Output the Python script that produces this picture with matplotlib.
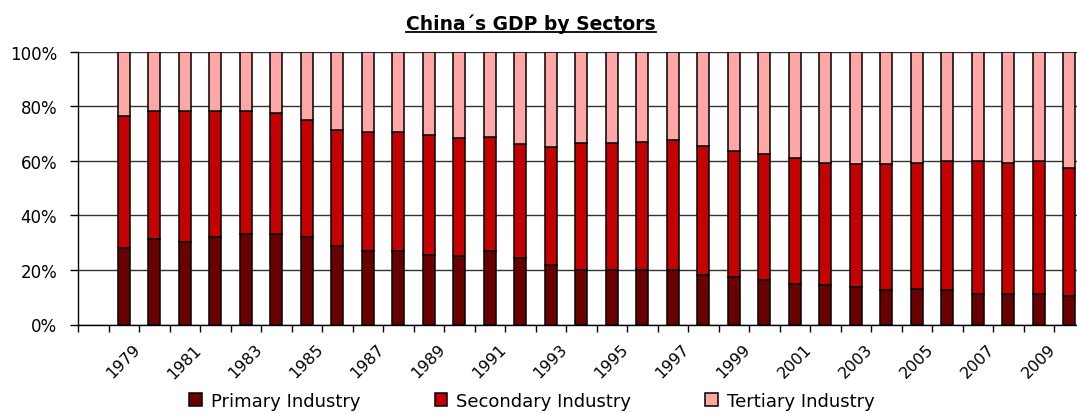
import matplotlib
matplotlib.use('Agg')
from matplotlib import pyplot as plt
from matplotlib.lines import Line2D


years = list(range(1979, 2011))

# sector shares of GDP, percent
primary = [28.2, 31.3, 30.1, 31.9, 33.1, 33.1, 31.9, 28.7, 26.9, 26.9, 25.6,
           25.1, 26.9, 24.4, 21.8, 20.0, 20.0, 20.0, 20.0, 18.1, 17.5, 16.3,
           15.0, 14.4, 13.8, 12.6, 13.1, 12.6, 11.2, 11.2, 11.2, 10.5]
secondary = [48.1, 46.8, 48.0, 46.2, 45.0, 44.5, 43.2, 42.6, 43.8, 43.8, 43.8,
             43.1, 41.9, 41.9, 43.4, 46.4, 46.4, 47.0, 47.5, 47.5, 46.2, 46.2,
             46.1, 44.9, 45.0, 46.2, 46.2, 47.3, 48.7, 48.1, 48.7, 46.8]
tertiary = [23.7, 21.9, 21.9, 21.9, 21.9, 22.4, 24.9, 28.7, 29.3, 29.3, 30.6,
            31.8, 31.2, 33.7, 34.8, 33.6, 33.6, 33.0, 32.5, 34.4, 36.3, 37.5,
            38.9, 40.7, 41.2, 41.2, 40.7, 40.1, 40.1, 40.7, 40.1, 42.7]

sector_names = ['Primary Industry', 'Secondary Industry', 'Tertiary Industry']
sector_colors = ['#6b0000', '#c40000', '#ffa6a6']

year_labels = [str(y) for y in range(1979, 2010, 2)]


def main():
    W, H = 1077, 414
    fig = plt.figure(figsize=(W/100, H/100), dpi=100)

    # one empty slot before the first year, axis runs on past the right edge
    slot = 30.5
    ax = fig.add_axes([78/W, (H-325.5)/H, 33*slot/W, 272.8/H])

    pos = [i+1 for i in range(len(years))]
    bottom = [0.0]*len(years)
    for name, vals, col in zip(sector_names, [primary, secondary, tertiary], sector_colors):
        ax.bar(pos, vals, width=0.40, bottom=bottom, color=col,
               edgecolor='black', linewidth=1.1, label=name, zorder=3)
        bottom = [b+v for b, v in zip(bottom, vals)]

    ax.set_xlim(-0.5, 32.5)
    ax.set_ylim(0, 100)

    ax.set_yticks(range(0, 101, 20))
    ax.set_yticklabels([f'{v}%' for v in range(0, 101, 20)])
    ax.tick_params(axis='y', direction='out', length=6, width=1, pad=9, labelsize=12)
    ax.yaxis.grid(True, color='#333333', linewidth=1.0)
    ax.set_axisbelow(True)

    label_pos = [years.index(int(y))+1 for y in year_labels]
    ax.set_xticks(label_pos)
    ax.set_xticklabels(year_labels, rotation=45, ha='center', va='top')
    ax.set_xticks([i - 0.5 for i in range(34)], minor=True)
    ax.tick_params(axis='x', which='major', length=0, pad=12, labelsize=11.5)
    ax.tick_params(axis='x', which='minor', direction='out', length=5, width=1)

    for side in ['top', 'right']:
        ax.spines[side].set_visible(False)
    for side in ['left', 'bottom']:
        ax.spines[side].set_color('black')
        ax.spines[side].set_linewidth(1.0)

    title = fig.text(531/W, 1 - 29.5/H, 'China\u00b4s GDP by Sectors',
                     ha='center', va='baseline', fontsize=13.5, fontweight='bold')

    ax.legend(loc='center', bbox_to_anchor=(532/W, 1 - 402/H),
              bbox_transform=fig.transFigure, ncol=3, frameon=False,
              fontsize=13, handlelength=0.7, handleheight=0.7,
              handletextpad=0.5, columnspacing=4.1, borderpad=0)

    # underline the title
    fig.canvas.draw()
    bb = title.get_window_extent()
    uy = 1 - 32.5/H
    fig.add_artist(Line2D([bb.x0/W, bb.x1/W], [uy, uy], color='black',
                          linewidth=1.3, transform=fig.transFigure))

    fig.savefig('out.png', dpi=100)
    plt.close()


if __name__ == "__main__": main()
